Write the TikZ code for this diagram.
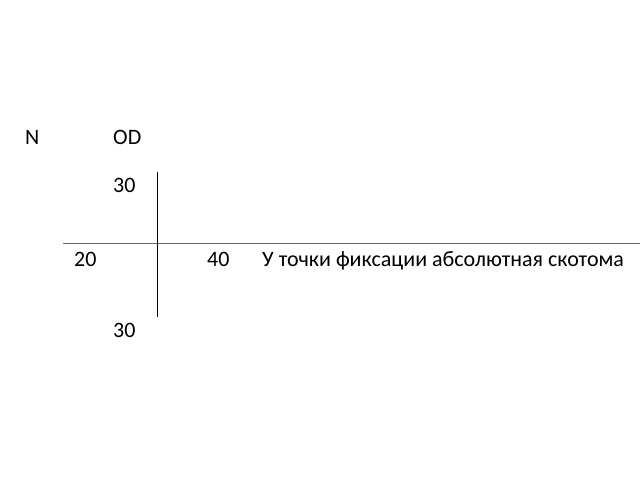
\documentclass[tikz,border=0pt]{standalone}
\usepackage{fontspec}
\setmainfont{Carlito}
\begin{document}
\begin{tikzpicture}[x=1pt,y=-1pt,
  lbl/.style={anchor=base west,inner sep=0pt,font=\fontsize{22}{26}\selectfont},
  axis/.style={line width=0.9pt}]
\useasboundingbox (0,0) rectangle (640,480);
\node[lbl] (n) at (25,144) {N};
\node[lbl] (od) at (113,144) {OD};
\node[lbl] (t30) at (113,192) {30};
\node[lbl] (l20) at (74,266) {20};
\node[lbl] (r40) at (207,266) {40};
\node[lbl] (txt) at (262,266) {У точки фиксации абсолютная скотома};
\node[lbl] (b30) at (113,337) {30};
\coordinate (vt) at (157,172);
\coordinate (vb) at (157,317);
\coordinate (hl) at (63,243);
\coordinate (hr) at (640,243);
\draw[axis,black!60] (hl) -- (hr);
\draw[axis] (vt) -- (vb);
\end{tikzpicture}
\end{document}
